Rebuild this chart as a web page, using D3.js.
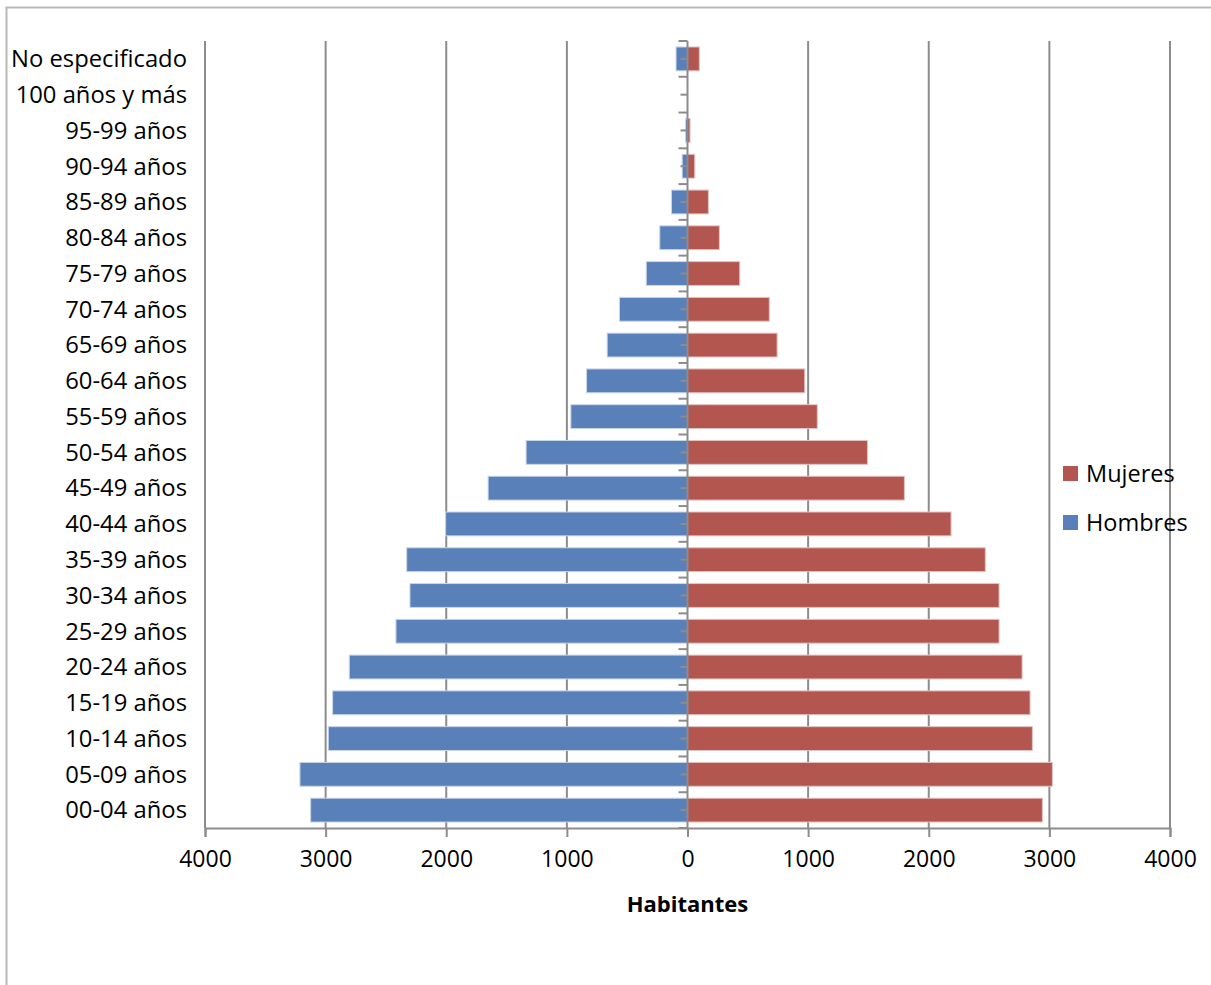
<!DOCTYPE html>
<html>
<head>
<meta charset="utf-8">
<script src="https://cdn.jsdelivr.net/npm/d3@7"></script>
<style>
  body { margin: 0; background: #fff; }
  svg { display: block; font-family: "Open Sans", sans-serif; }
</style>
</head>
<body>
<script>
// age groups, top to bottom as in the chart
var categories = ["No especificado", "100 años y más", "95-99 años", "90-94 años", "85-89 años",
    "80-84 años", "75-79 años", "70-74 años", "65-69 años", "60-64 años", "55-59 años",
    "50-54 años", "45-49 años", "40-44 años", "35-39 años", "30-34 años", "25-29 años",
    "20-24 años", "15-19 años", "10-14 años", "05-09 años", "00-04 años"];

var hombres = [95, 0, 16, 44, 133, 230, 342, 564, 666, 837, 967, 1338, 1653, 2005,
    2328, 2301, 2417, 2804, 2942, 2978, 3213, 3124];

var mujeres = [98, 0, 21, 60, 173, 264, 433, 678, 743, 972, 1076, 1492, 1798, 2185,
    2469, 2583, 2583, 2774, 2840, 2859, 3025, 2942];

var xTicks = [-4000, -3000, -2000, -1000, 0, 1000, 2000, 3000, 4000];

var W = 1211, H = 985;
var margin = { top: 41, right: 41, bottom: 157, left: 205 };

var svg = d3.select("body").append("svg")
    .attr("width", W)
    .attr("height", H);

// outer chart frame (only top and left edges visible)
svg.append("path")
    .attr("d", "M6.5," + H + "V7.5H" + W)
    .attr("fill", "none")
    .attr("stroke", "#b9b9b9")
    .attr("stroke-width", 2);

var x = d3.scaleLinear()
    .domain([-4000, 4000])
    .range([margin.left, W - margin.right]);

var y = d3.scaleBand()
    .domain(categories)
    .range([margin.top, H - margin.bottom])
    .paddingInner(1 / 3)
    .paddingOuter(1 / 6);

var gridColor = "#8c8c8c";

// vertical gridlines
svg.append("g").selectAll("line")
    .data(xTicks.filter(function (d) { return d !== 0; }))
    .enter().append("line")
    .attr("x1", function (d) { return x(d); })
    .attr("x2", function (d) { return x(d); })
    .attr("y1", margin.top)
    .attr("y2", H - margin.bottom)
    .attr("stroke", gridColor)
    .attr("stroke-width", 2);

// bars
svg.append("g").selectAll("rect")
    .data(hombres)
    .enter().append("rect")
    .attr("x", function (d) { return x(-d); })
    .attr("y", function (d, i) { return y(categories[i]); })
    .attr("width", function (d) { return x(0) - x(-d); })
    .attr("height", y.bandwidth())
    .attr("fill", "#5980b8")
    .attr("stroke", "#c9d6ea")
    .attr("stroke-width", 1);

svg.append("g").selectAll("rect")
    .data(mujeres)
    .enter().append("rect")
    .attr("x", x(0))
    .attr("y", function (d, i) { return y(categories[i]); })
    .attr("width", function (d) { return x(d) - x(0); })
    .attr("height", y.bandwidth())
    .attr("fill", "#b35650")
    .attr("stroke", "#e3c4c2")
    .attr("stroke-width", 1);

// x axis
var xAxis = d3.axisBottom(x)
    .tickValues(xTicks)
    .tickSize(9)
    .tickPadding(14)
    .tickFormat(function (d) { return Math.abs(d); });

var gx = svg.append("g")
    .attr("transform", "translate(0," + (H - margin.bottom) + ")")
    .call(xAxis);
gx.select(".domain").attr("stroke", gridColor).attr("stroke-width", 2);
gx.selectAll(".tick line").attr("stroke", gridColor).attr("stroke-width", 2);
gx.selectAll(".tick text")
    .attr("fill", "#000")
    .style("font-size", "23px")
    .style("font-family", "'Open Sans', sans-serif");

// vertical category axis at zero
var step = y.step();
var boundaries = categories.map(function (c) { return y(c) - y.paddingInner() * step / 2; });
boundaries.push(H - margin.bottom);
var centers = categories.map(function (c) { return y(c) + y.bandwidth() / 2; });

var gy = svg.append("g");
gy.selectAll("line.major")
    .data(boundaries)
    .enter().append("line")
    .attr("class", "major")
    .attr("x1", x(0) - 9).attr("x2", x(0))
    .attr("y1", function (d) { return d; }).attr("y2", function (d) { return d; })
    .attr("stroke", gridColor).attr("stroke-width", 2);
gy.selectAll("line.minor")
    .data(centers)
    .enter().append("line")
    .attr("class", "minor")
    .attr("x1", x(0) - 7).attr("x2", x(0))
    .attr("y1", function (d) { return d; }).attr("y2", function (d) { return d; })
    .attr("stroke", gridColor).attr("stroke-width", 2);
gy.append("line")
    .attr("x1", x(0)).attr("x2", x(0))
    .attr("y1", margin.top).attr("y2", H - margin.bottom)
    .attr("stroke", gridColor).attr("stroke-width", 2);

// category labels on the left
svg.append("g").selectAll("text")
    .data(categories)
    .enter().append("text")
    .attr("x", 187)
    .attr("y", function (d) { return y(d) + y.bandwidth() / 2; })
    .attr("dy", "0.35em")
    .attr("text-anchor", "end")
    .style("font-size", "23.8px")
    .text(function (d) { return d; });

// axis title
svg.append("text")
    .attr("x", x(0))
    .attr("y", 912)
    .attr("text-anchor", "middle")
    .style("font-size", "22px")
    .style("font-weight", "bold")
    .text("Habitantes");

// legend
var legend = [
    { name: "Mujeres", color: "#b35650" },
    { name: "Hombres", color: "#5980b8" }
];
var lg = svg.append("g").selectAll("g")
    .data(legend)
    .enter().append("g")
    .attr("transform", function (d, i) { return "translate(1063," + (466 + i * 49) + ")"; });
lg.append("rect")
    .attr("width", 15).attr("height", 15)
    .attr("fill", function (d) { return d.color; });
lg.append("text")
    .attr("x", 23)
    .attr("y", 7.5)
    .attr("dy", "0.35em")
    .style("font-size", "23.5px")
    .text(function (d) { return d.name; });
</script>
</body>
</html>
